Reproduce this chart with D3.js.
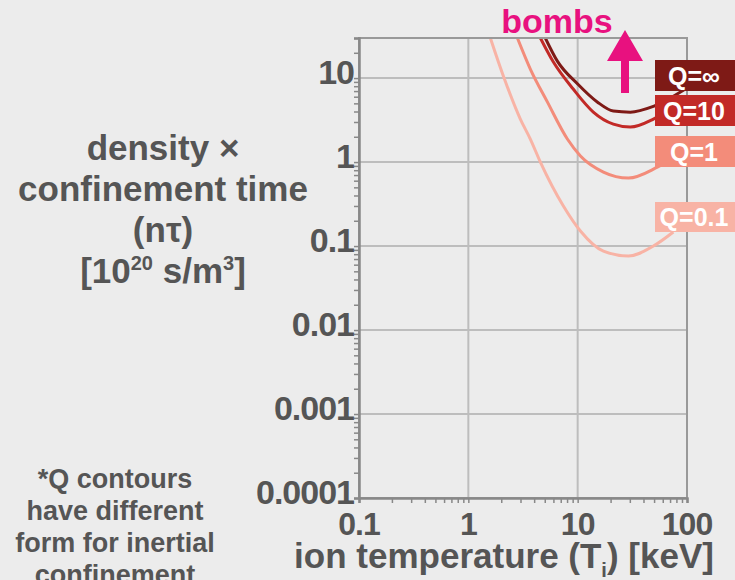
<!DOCTYPE html>
<html>
<head>
<meta charset="utf-8">
<script src="https://cdn.jsdelivr.net/npm/d3@7"></script>
<style>
  html, body { margin: 0; padding: 0; background: #ececec; }
  svg { display: block; }
  text { font-family: "Liberation Sans", Arial, Helvetica, sans-serif; font-weight: bold; }
</style>
</head>
<body>
<div id="chart"></div>
<script>
// tick values / labels
var tempTicks = [0.1, 1, 10, 100];
var tempTickLabels = ["0.1", "1", "10", "100"];
var ntTicks = [0.0001, 0.001, 0.01, 0.1, 1, 10];
var ntTickLabels = ["0.0001", "0.001", "0.01", "0.1", "1", "10"];

// Q contours (T in keV, n*tau in 1e20 s/m^3)
var qNames = ["Q=∞", "Q=10", "Q=1", "Q=0.1"];
var tempQinf = [5.06, 6.52, 10, 15.1, 21.2, 30.3, 49.3, 96.7];
var ntQinf   = [30, 15.9, 8.5, 5.2, 4.05, 3.93, 4.6, 7.4];
var tempQ10  = [4.56, 6.0, 9.1, 13.9, 21.2, 30.3, 49.3, 90];
var ntQ10    = [30, 15.5, 7.4, 3.94, 2.83, 2.61, 3.25, 5.5];
var tempQ1   = [2.81, 3.69, 5.28, 8.05, 10.6, 17.2, 29.1, 53.6, 90];
var ntQ1     = [30, 12.8, 5.2, 1.88, 1.18, 0.76, 0.645, 0.87, 1.3];
var tempQ01  = [1.59, 2.09, 2.99, 3.69, 4.56, 7.4, 10.6, 17.2, 29.1, 49.3, 75];
var ntQ01    = [30, 10.6, 3.25, 1.88, 1.0, 0.30, 0.151, 0.087, 0.076, 0.1, 0.147];

var qColors = ["#7e1a16", "#c22a27", "#f38c7a", "#f8b3a5"];

var W = 735, H = 580;
var plotL = 359, plotR = 687, plotT = 38, plotB = 498;
var gray = "#555";

var svg = d3.select("#chart").append("svg")
    .attr("width", W)
    .attr("height", H);

var x = d3.scaleLog().domain([0.1, 100]).range([plotL, plotR]);
var y = d3.scaleLog().domain([0.0001, 30]).range([plotB, plotT]);

// grid
svg.append("g").selectAll("line")
    .data(ntTicks.filter(function(d) { return d > 0.0001; }))
    .enter().append("line")
    .attr("x1", plotL).attr("x2", plotR)
    .attr("y1", function(d) { return y(d); })
    .attr("y2", function(d) { return y(d); })
    .attr("stroke", "#bdbdbd").attr("stroke-width", 2);
svg.append("g").selectAll("line")
    .data([1, 10])
    .enter().append("line")
    .attr("y1", plotT).attr("y2", plotB)
    .attr("x1", function(d) { return x(d); })
    .attr("x2", function(d) { return x(d); })
    .attr("stroke", "#bdbdbd").attr("stroke-width", 2);

svg.append("defs").append("clipPath").attr("id", "plotclip")
    .append("rect").attr("x", plotL).attr("y", plotT)
    .attr("width", plotR - plotL).attr("height", plotB - plotT);

// curves
var series = [
    d3.zip(tempQinf, ntQinf),
    d3.zip(tempQ10, ntQ10),
    d3.zip(tempQ1, ntQ1),
    d3.zip(tempQ01, ntQ01)
];
var line = d3.line()
    .x(function(d) { return x(d[0]); })
    .y(function(d) { return y(d[1]); })
    .curve(d3.curveMonotoneX);

svg.append("g").attr("clip-path", "url(#plotclip)")
    .selectAll("path")
    .data(series.slice().reverse())
    .enter().append("path")
    .attr("d", line)
    .attr("fill", "none")
    .attr("stroke", function(d, i) { return qColors[3 - i]; })
    .attr("stroke-width", 3);

// frame
svg.append("rect")
    .attr("x", plotL).attr("y", plotT)
    .attr("width", plotR - plotL).attr("height", plotB - plotT)
    .attr("fill", "none").attr("stroke", "#999").attr("stroke-width", 2);

// axes with log minor ticks
var yAxis = d3.axisLeft(y)
    .tickValues(y.ticks())
    .tickSize(5)
    .tickFormat("");
svg.append("g")
    .attr("transform", "translate(" + plotL + ",0)")
    .call(yAxis)
    .call(function(g) {
        g.selectAll("line").attr("stroke", "#888").attr("stroke-width", 1.5);
        g.select(".domain").attr("stroke", "#888").attr("stroke-width", 2.5);
    });
var xAxis = d3.axisBottom(x)
    .tickValues(x.ticks())
    .tickSize(5)
    .tickFormat("");
svg.append("g")
    .attr("transform", "translate(0," + plotB + ")")
    .call(xAxis)
    .call(function(g) {
        g.selectAll("line").attr("stroke", "#888").attr("stroke-width", 1.5);
        g.select(".domain").attr("stroke", "#888").attr("stroke-width", 2.5);
    });

// tick labels
svg.append("g").selectAll("text")
    .data(ntTicks)
    .enter().append("text")
    .attr("x", plotL - 5)
    .attr("y", function(d) { return y(d) + 6; })
    .attr("text-anchor", "end")
    .attr("font-size", 34)
    .attr("letter-spacing", -1)
    .attr("fill", gray)
    .text(function(d, i) { return ntTickLabels[i]; });

svg.append("g").selectAll("text")
    .data(tempTicks)
    .enter().append("text")
    .attr("x", function(d) { return x(d); })
    .attr("y", plotB + 37)
    .attr("text-anchor", "middle")
    .attr("font-size", 32)
    .attr("letter-spacing", -1)
    .attr("fill", gray)
    .text(function(d, i) { return tempTickLabels[i]; });

// x title
var xt = svg.append("text")
    .attr("x", 504).attr("y", 568)
    .attr("text-anchor", "middle")
    .attr("font-size", 35)
    .attr("fill", gray);
xt.append("tspan").text("ion temperature (T");
xt.append("tspan").attr("font-size", 20).attr("dy", 9).text("i");
xt.append("tspan").attr("dy", -9).text(") [keV]");

// y title
var ytLines = ["density ×", "confinement time", "(nτ)"];
svg.append("g").selectAll("text")
    .data(ytLines)
    .enter().append("text")
    .attr("x", 163)
    .attr("y", function(d, i) { return 160 + i * 41; })
    .attr("text-anchor", "middle")
    .attr("font-size", 35)
    .attr("fill", gray)
    .text(function(d) { return d; });
var yu = svg.append("text")
    .attr("x", 163).attr("y", 283)
    .attr("text-anchor", "middle")
    .attr("font-size", 35)
    .attr("fill", gray);
yu.append("tspan").text("[10");
yu.append("tspan").attr("font-size", 20).attr("dy", -13).text("20");
yu.append("tspan").attr("dy", 13).text(" s/m");
yu.append("tspan").attr("font-size", 20).attr("dy", -13).text("3");
yu.append("tspan").attr("dy", 13).text("]");

// footnote
var note = ["*Q contours", "have different", "form for inertial", "confinement"];
svg.append("g").selectAll("text")
    .data(note)
    .enter().append("text")
    .attr("x", 115)
    .attr("y", function(d, i) { return 488 + i * 32; })
    .attr("text-anchor", "middle")
    .attr("font-size", 27)
    .attr("fill", gray)
    .text(function(d) { return d; });

// Q label boxes
var boxTop = [60, 95, 136, 202];
var boxH = [31, 31, 31, 30];
var lab = svg.append("g").selectAll("g")
    .data(qNames)
    .enter().append("g");
lab.append("rect")
    .attr("x", 655).attr("width", 80)
    .attr("y", function(d, i) { return boxTop[i]; })
    .attr("height", function(d, i) { return boxH[i]; })
    .attr("fill", function(d, i) { return qColors[i]; });
lab.append("text")
    .attr("x", 694)
    .attr("y", function(d, i) { return boxTop[i] + boxH[i] / 2; })
    .attr("dy", "0.36em")
    .attr("text-anchor", "middle")
    .attr("font-size", 25)
    .attr("fill", "#fff")
    .text(function(d) { return d; });

// bombs arrow
var pink = "#e8117f";
svg.append("text")
    .attr("x", 557).attr("y", 33)
    .attr("text-anchor", "middle")
    .attr("font-size", 34)
    .attr("fill", pink)
    .text("bombs");
svg.append("path")
    .attr("d", "M625,30 L643,61 L629,61 L629,93 L621,93 L621,61 L607,61 Z")
    .attr("fill", pink);
</script>
</body>
</html>
